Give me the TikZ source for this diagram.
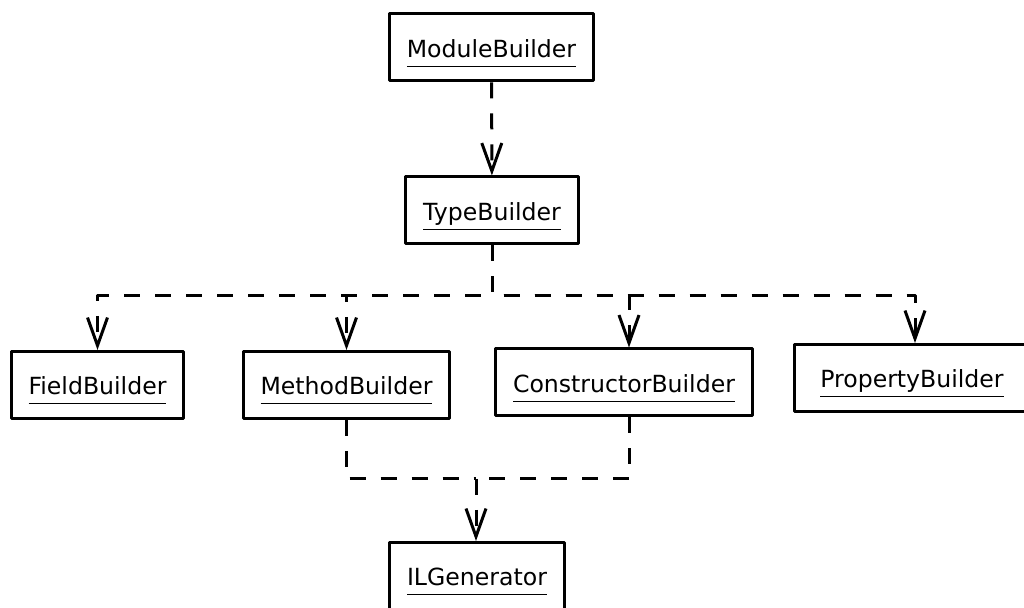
\documentclass[tikz,border=0pt]{standalone}
\usepackage{fontspec}
\setmainfont{DejaVu Sans}
\usetikzlibrary{arrows.meta}
\newsavebox{\unamebox}
\newcommand{\uname}[1]{\sbox{\unamebox}{#1}\rlap{\raisebox{-4.75pt}{\rule{\wd\unamebox}{0.7pt}}}\usebox{\unamebox}}
\begin{document}
\begin{tikzpicture}[x=0.5pt,y=-0.5pt,line join=round,
	cls/.style={draw,line width=1.5pt,minimum height=33.5pt,inner xsep=8.75pt,text height=12.5pt,text depth=2.5pt,font=\fontsize{11.8}{14}\selectfont},
	dep/.style={line width=1.5pt,dash pattern=on 8pt off 7.5pt},
	deparrow/.style={dep,-{Straight Barb[length=14pt,width=10pt,line width=1.5pt]}}]
			\useasboundingbox (0,0) rectangle (1024,608);
			\path
			(492,296) coordinate (split)
			(476,479) coordinate (join);
			\node[cls] (module) at (491.5,47.5) {\uname{ModuleBuilder}};
			\node[cls] (type) at (492,210.5) {\uname{TypeBuilder}};
			\node[cls] (field) at (97.5,385) {\uname{FieldBuilder}};
			\node[cls] (method) at (346.5,385) {\uname{MethodBuilder}};
			\node[cls] (ctor) at (624,382.5) {\uname{ConstructorBuilder}};
			\node[cls,minimum width=117.5pt] (property) at (912,378) {\uname{PropertyBuilder}};
			\node[cls] (ilgen) at (477,576) {\uname{ILGenerator}};
			\draw[deparrow] (module) -- (type);
			\draw[deparrow] (type.south) -- (split) -| (field.north);
			\draw[deparrow] (type.south) -- (split) -| (method.north);
			\draw[deparrow] (type.south) -- (split) -| ([xshift=2.5pt]ctor.north);
			\draw[deparrow] (type.south) -- (split) -| ([xshift=1.5pt]property.north);
			\draw[dep] (method.south) |- (join);
			\draw[dep] ([xshift=2.5pt]ctor.south) |- (join);
			\draw[deparrow] (join) -- (join |- ilgen.north);
		\end{tikzpicture}
\end{document}
